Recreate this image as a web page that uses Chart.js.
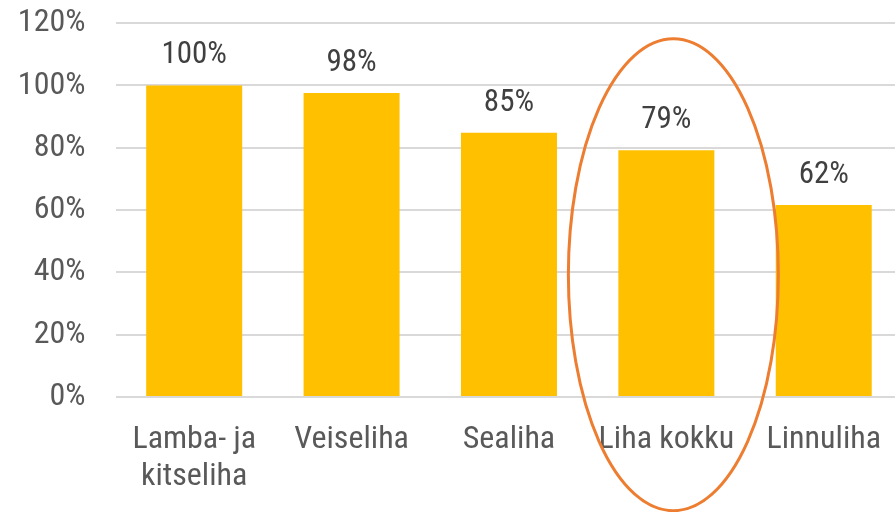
<!DOCTYPE html>
<html>
<head>
<meta charset="utf-8">
<script src="https://cdn.jsdelivr.net/npm/chart.js@4.4.1/dist/chart.umd.min.js"></script>
<style>
html,body{margin:0;padding:0;background:#fff;overflow:hidden;}
#wrap{position:absolute;left:0;top:0;width:906px;height:512px;}
</style>
</head>
<body>
<div id="wrap"><canvas id="c" width="906" height="512"></canvas></div>
<script>
const categories = [["Lamba- ja","kitseliha"], "Veiseliha", "Sealiha", "Liha kokku", "Linnuliha"];
const values = [100, 97.6, 84.8, 79.2, 61.6];
const valueLabels = ["100%", "98%", "85%", "79%", "62%"];
const highlightIndex = 3;

const FONT = "'Roboto Condensed', 'Roboto', sans-serif";

const labelPlugin = {
  id: 'valueLabels',
  afterDatasetsDraw(chart) {
    const ctx = chart.ctx;
    const meta = chart.getDatasetMeta(0);
    ctx.save();
    ctx.font = "31px " + FONT;
    ctx.fillStyle = "#404040";
    ctx.textAlign = "center";
    ctx.textBaseline = "middle";
    meta.data.forEach((bar, i) => {
      ctx.fillText(valueLabels[i], bar.x, bar.y - 30);
    });
    ctx.restore();
  }
};

const ellipsePlugin = {
  id: 'highlightEllipse',
  afterDraw(chart) {
    const ctx = chart.ctx;
    const bar = chart.getDatasetMeta(0).data[highlightIndex];
    const ys = chart.scales.y;
    const cx = bar.x + 7;
    const top = ys.getPixelForValue(115);
    const bottom = ys.getPixelForValue(-36.5);
    const cy = (top + bottom) / 2;
    const ry = (bottom - top) / 2;
    const rx = 105;
    ctx.save();
    ctx.strokeStyle = "#ED7D31";
    ctx.lineWidth = 3;
    ctx.beginPath();
    ctx.ellipse(cx, cy, rx, ry, 0, 0, Math.PI * 2);
    ctx.stroke();
    ctx.restore();
  }
};

new Chart(document.getElementById('c'), {
  type: 'bar',
  data: {
    labels: categories,
    datasets: [{
      data: values,
      backgroundColor: '#FFC000',
      borderWidth: 0,
      categoryPercentage: 1,
      barPercentage: 0.61
    }]
  },
  options: {
    responsive: false,
    animation: false,
    devicePixelRatio: 1,
    layout: { padding: { top: 0, right: 0, bottom: 0, left: 0 } },
    plugins: { legend: { display: false }, tooltip: { enabled: false } },
    scales: {
      x: {
        grid: { display: false, drawTicks: false },
        border: { display: false },
        ticks: {
          color: '#595959',
          font: { family: FONT, size: 32, lineHeight: 1.15 },
          padding: 25,
          maxRotation: 0,
          autoSkip: false
        },
        afterFit(s) { s.height = 115; }
      },
      y: {
        min: 0, max: 120,
        grid: { color: '#D9D9D9', lineWidth: 2, drawTicks: true, tickLength: 26, tickColor: 'rgba(0,0,0,0)' },
        border: { display: false },
        ticks: {
          stepSize: 20,
          color: '#595959',
          font: { family: FONT, size: 32 },
          padding: 4,
          callback: v => v + '%'
        },
        afterFit(s) { s.width = 115.5; }
      }
    }
  },
  plugins: [labelPlugin, ellipsePlugin]
});
</script>
</body>
</html>
